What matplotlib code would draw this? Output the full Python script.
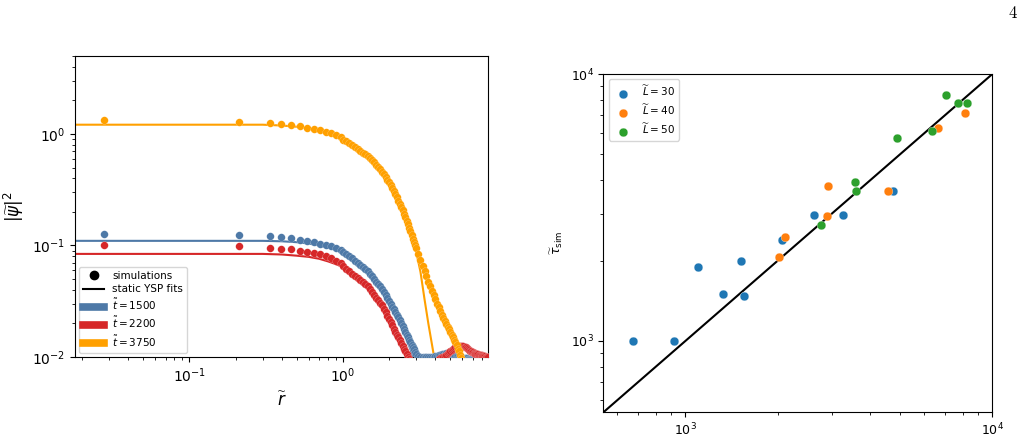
import matplotlib
matplotlib.use("Agg")
import matplotlib.pyplot as plt
from matplotlib.lines import Line2D

# ---- left panel: radial profiles |psi|^2 vs r ----
r_sim = [0.028, 0.21, 0.333, 0.397, 0.461, 0.524, 0.587, 0.651, 0.714, 0.778, 0.841, 0.905, 0.968,
         1.00, 1.05, 1.10, 1.15, 1.20, 1.25, 1.30, 1.35, 1.40, 1.45,
         1.50, 1.55, 1.60, 1.65, 1.70, 1.75, 1.80, 1.85, 1.90, 1.95,
         2.00, 2.05, 2.10, 2.15, 2.20, 2.25, 2.30, 2.35, 2.40, 2.45,
         2.50, 2.55, 2.60, 2.65, 2.70, 2.75, 2.80, 2.85, 2.90, 2.95,
         3.0, 3.1, 3.2, 3.3, 3.4, 3.5, 3.6, 3.7, 3.8, 3.9,
         4.0, 4.1, 4.2, 4.3, 4.4, 4.5, 4.6, 4.7, 4.8, 4.9,
         5.0, 5.1, 5.2, 5.3, 5.4, 5.5, 5.6, 5.7, 5.8, 5.9,
         6.0, 6.1, 6.2, 6.3, 6.4, 6.5, 6.6, 6.7, 6.8, 6.9,
         7.0, 7.1, 7.2, 7.3, 7.4, 7.5, 7.6, 7.7, 7.8, 7.9,
         8.0, 8.1, 8.2, 8.3, 8.4, 8.5, 8.6, 8.7, 8.8]

psi_1500 = [0.127, 0.124, 0.121, 0.118, 0.116, 0.113, 0.110, 0.107, 0.104, 0.101, 0.098, 0.095, 0.091,
            0.088, 0.084, 0.080, 0.077, 0.073, 0.070, 0.067, 0.064, 0.062, 0.059,
            0.056, 0.053, 0.050, 0.047, 0.045, 0.043, 0.041, 0.038, 0.036, 0.034,
            0.0318, 0.0300, 0.0283, 0.0267, 0.0251, 0.0238, 0.0226, 0.0214, 0.0201, 0.0190,
            0.0179, 0.0169, 0.0159, 0.0151, 0.0143, 0.0136, 0.0129, 0.0123, 0.0117, 0.0111,
            0.0106, 0.0103, 0.0101, 0.0100, 0.0099, 0.0099, 0.0099, 0.0100, 0.0100, 0.0101,
            0.0102, 0.0103, 0.0104, 0.0105, 0.0106, 0.0107, 0.0107, 0.0108, 0.0108, 0.0108,
            0.0107, 0.0107, 0.0106, 0.0105, 0.0104, 0.0103, 0.0102, 0.0101, 0.0100, 0.0099,
            0.0098, 0.0098, 0.0097, 0.0097, 0.0097, 0.0096, 0.0096, 0.0096, 0.0096, 0.0095,
            0.0095, 0.0095, 0.0095, 0.0095, 0.0095, 0.0094, 0.0094, 0.0094, 0.0094, 0.0094,
            0.0094, 0.0094, 0.0094, 0.0094, 0.0094, 0.0094, 0.0094, 0.0094, 0.0094]

psi_2200 = [0.101, 0.098, 0.0955, 0.0935, 0.092, 0.090, 0.088, 0.086, 0.083, 0.081, 0.077, 0.073, 0.069,
            0.065, 0.0617, 0.0586, 0.0559, 0.0534, 0.0511, 0.0490, 0.0470, 0.0452, 0.0429,
            0.0403, 0.0380, 0.0359, 0.0339, 0.0321, 0.0305, 0.0290, 0.0272, 0.0252, 0.0235,
            0.0219, 0.0205, 0.0192, 0.0180, 0.0169, 0.0159, 0.0150, 0.0141, 0.0133, 0.0126,
            0.0119, 0.0112, 0.0106, 0.0101, 0.0096, 0.0092, 0.0088, 0.0085, 0.0083, 0.0081,
            0.0080, 0.0079, 0.0079, 0.0079, 0.0080, 0.0081, 0.0083, 0.0085, 0.0087, 0.0089,
            0.0091, 0.0093, 0.0095, 0.0097, 0.0099, 0.0101, 0.0103, 0.0105, 0.0108, 0.0110,
            0.0113, 0.0115, 0.0118, 0.0120, 0.0122, 0.0124, 0.0125, 0.0126, 0.0126, 0.0126,
            0.0126, 0.0125, 0.0124, 0.0122, 0.0120, 0.0118, 0.0116, 0.0114, 0.0112, 0.0111,
            0.0110, 0.0109, 0.0108, 0.0107, 0.0107, 0.0106, 0.0106, 0.0105, 0.0105, 0.0104,
            0.0104, 0.0103, 0.0103, 0.0102, 0.0102, 0.0101, 0.0101, 0.0101, 0.0100]

psi_3750 = [1.32, 1.29, 1.25, 1.23, 1.20, 1.17, 1.14, 1.11, 1.08, 1.05, 1.02, 0.98, 0.93,
            0.89, 0.86, 0.83, 0.80, 0.77, 0.74, 0.71, 0.68, 0.66, 0.63,
            0.61, 0.58, 0.56, 0.53, 0.51, 0.48, 0.46, 0.44, 0.41, 0.39,
            0.37, 0.35, 0.33, 0.31, 0.29, 0.27, 0.25, 0.237, 0.222, 0.207,
            0.193, 0.180, 0.167, 0.155, 0.144, 0.134, 0.124, 0.115, 0.107, 0.100,
            0.094, 0.083, 0.074, 0.066, 0.059, 0.053, 0.047, 0.043, 0.039, 0.036,
            0.033, 0.030, 0.028, 0.026, 0.024, 0.0225, 0.021, 0.0198, 0.0187, 0.0177,
            0.0168, 0.0159, 0.0151, 0.0143, 0.0135, 0.0127, 0.0119, 0.0112, 0.0104, 0.0098,
            0.0093, 0.0089, 0.0086, 0.0083, 0.0081, 0.0079, 0.0077, 0.0075, 0.0073, 0.0072,
            0.0070, 0.0069, 0.0068, 0.0067, 0.0066, 0.0065, 0.0064, 0.0063, 0.0062, 0.0062,
            0.0061, 0.0060, 0.0060, 0.0059, 0.0059, 0.0058, 0.0058, 0.0057, 0.0057]

r_fit = [0.018, 0.05, 0.1, 0.2, 0.3, 0.4, 0.5, 0.6, 0.7, 0.8, 0.9, 1.0,
         1.2, 1.4, 1.6, 1.8, 2.0, 2.2, 2.4, 2.6, 2.8, 3.0, 3.2, 3.4, 3.6, 3.8, 4.0]

fit_1500 = [0.110, 0.110, 0.110, 0.110, 0.110, 0.109, 0.107, 0.104, 0.100, 0.096, 0.091, 0.086,
            0.074, 0.062, 0.051, 0.041, 0.032, 0.025, 0.019, 0.0145, 0.011, 0.0082, 0.006,
            0.0045, 0.0035, 0.0028, 0.0022]
fit_2200 = [0.084, 0.084, 0.084, 0.084, 0.084, 0.083, 0.081, 0.079, 0.076, 0.072, 0.068, 0.064,
            0.055, 0.046, 0.037, 0.030, 0.023, 0.0175, 0.013, 0.0097, 0.0072, 0.0055, 0.0042,
            0.0032, 0.0025, 0.002, 0.0016]
fit_3750 = [1.21, 1.21, 1.21, 1.21, 1.21, 1.19, 1.16, 1.12, 1.07, 1.01, 0.95, 0.88,
            0.76, 0.65, 0.55, 0.46, 0.37, 0.29, 0.22, 0.165, 0.125, 0.088, 0.058,
            0.033, 0.020, 0.013, 0.0086]

times = ["1500", "2200", "3750"]
cols = ["#4e79a7", "#d62728", "#ffa000"]

# ---- right panel: tau_sim vs tau_pred ----
x_L30 = [674, 916, 1100, 1321, 1514, 1548, 2061, 2630, 3254, 4745]
y_L30 = [1000, 1000, 1885, 1500, 1994, 1470, 2382, 2956, 2956, 3656]
x_L40 = [2024, 2113, 2891, 2924, 4569, 6655, 8139]
y_L40 = [2070, 2461, 2930, 3806, 3656, 6283, 7131]
x_L50 = [2765, 3566, 3607, 4897, 6366, 7071, 7743, 8277]
y_L50 = [2711, 3954, 3648, 5775, 6138, 8368, 7809, 7809]
diag = [540, 10000]

fig = plt.figure(figsize=(10.24, 4.37), dpi=100)

ax1 = fig.add_axes([0.0732, 0.1831, 0.4033, 0.6888])
sims = [psi_1500, psi_2200, psi_3750]
fits = [fit_1500, fit_2200, fit_3750]
for ys, yf, c in zip(sims, fits, cols):
    ax1.plot(r_fit, yf, color=c, lw=1.5, zorder=2)
for ys, c in zip(sims, cols):
    ax1.scatter(r_sim, ys, s=30, color=c, edgecolors="white", linewidths=0.12, zorder=3)
ax1.set_xscale("log")
ax1.set_yscale("log")
ax1.set_xlim(0.018, 8.8)
ax1.set_ylim(1e-2, 5)
ax1.set_xlabel(r"$\widetilde{r}$", fontsize=12)
ax1.set_ylabel(r"$|\widetilde{\psi}|^2$", fontsize=12)
ax1.tick_params(labelsize=10)

handles = [Line2D([], [], marker="o", ls="none", color="k", markersize=6),
           Line2D([], [], color="k", lw=1.5)]
labels = ["simulations", "static YSP fits"]
for t, c in zip(times, cols):
    handles.append(Line2D([], [], color=c, lw=5.5))
    labels.append(r"$\tilde{t} = %s$" % t)
ax1.legend(handles, labels, loc="lower left", fontsize=7.5, labelspacing=0.3,
           borderaxespad=0.4)

ax2 = fig.add_axes([0.5892, 0.0565, 0.3799, 0.7741])
ax2.scatter(x_L30, y_L30, s=40, color="tab:blue", edgecolors="white", linewidths=0.2,
            label=r"$\widetilde{L} = 30$", zorder=3)
ax2.scatter(x_L40, y_L40, s=40, color="tab:orange", edgecolors="white", linewidths=0.2,
            label=r"$\widetilde{L} = 40$", zorder=3)
ax2.scatter(x_L50, y_L50, s=40, color="tab:green", edgecolors="white", linewidths=0.2,
            label=r"$\widetilde{L} = 50$", zorder=3)
ax2.plot(diag, diag, color="k", lw=1.5, zorder=2)
ax2.set_xscale("log")
ax2.set_yscale("log")
ax2.set_xlim(540, 10000)
ax2.set_ylim(540, 10000)
ax2.set_ylabel(r"$\widetilde{\tau}_{\rm sim}$", fontsize=9)
ax2.tick_params(labelsize=9)
ax2.legend(loc="upper left", fontsize=7.5, labelspacing=0.4)

fig.text(0.989, 0.97, r"$4$", math_fontfamily="cm", fontsize=12, ha="center", va="center")

fig.savefig("out.png", dpi=100)
